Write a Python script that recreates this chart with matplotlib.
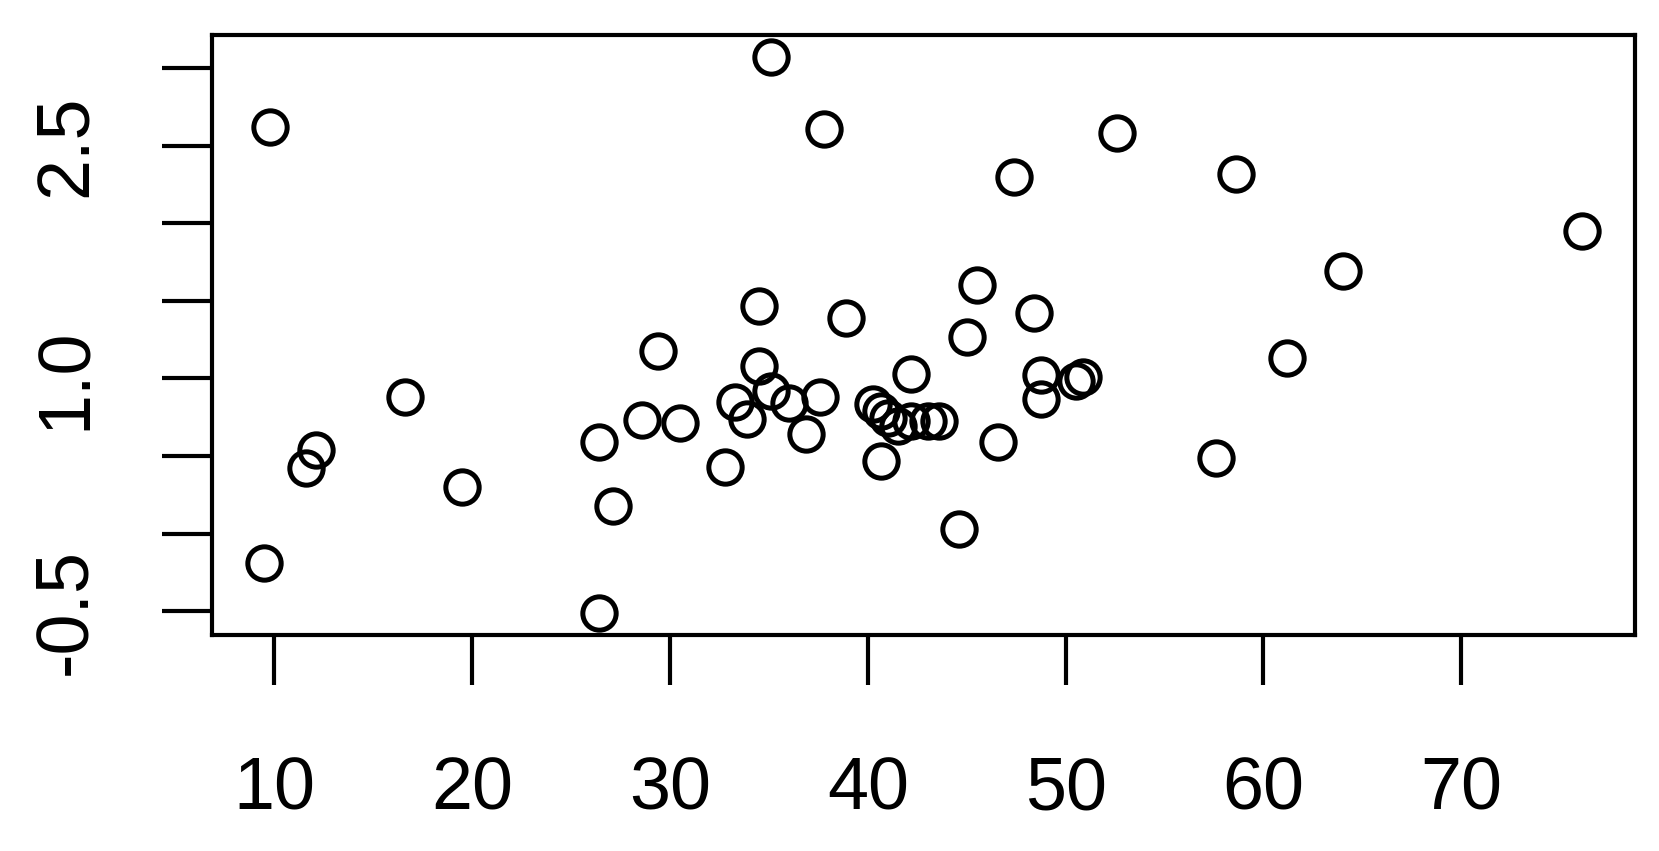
import matplotlib.pyplot as plt

# punkte
x = [9.8, 9.5, 11.6, 12.1, 16.6, 19.5, 26.4, 26.4, 27.1, 28.6,
     29.4, 30.5, 32.8, 33.3, 33.9, 34.5, 34.5, 35.1, 35.1, 36.0,
     36.9, 37.6, 37.8, 38.9, 40.26, 40.67, 41.01, 41.52, 40.67, 42.19,
     43.04, 43.6, 42.2, 44.6, 45.0, 45.5, 46.6, 47.4, 48.4, 48.78,
     48.78, 50.55, 50.88, 52.6, 57.6, 58.6, 61.2, 64.0, 76.1]
y = [2.62, -0.19, 0.42, 0.54, 0.88, 0.30, -0.51, 0.59, 0.18, 0.73,
     1.18, 0.71, 0.43, 0.85, 0.74, 1.47, 1.08, 0.92, 3.07, 0.84,
     0.64, 0.88, 2.61, 1.39, 0.836, 0.79, 0.748, 0.694, 0.467, 0.726,
     0.726, 0.726, 1.03, 0.03, 1.27, 1.60, 0.59, 2.30, 1.42, 1.02,
     0.87, 0.986, 1.007, 2.58, 0.49, 2.32, 1.13, 1.69, 1.95]

xticks = [10, 20, 30, 40, 50, 60, 70]
yticks = [-0.5, 0.0, 0.5, 1.0, 1.5, 2.0, 2.5, 3.0]
ylabels = ["-0.5", "", "", "1.0", "", "", "2.5", ""]

plt.rcParams['font.family'] = ['Liberation Sans', 'DejaVu Sans']

fig = plt.figure(figsize=(16.59, 8.51), dpi=100)
ax = fig.add_axes([0.1276, 0.2538, 0.8577, 0.7051])

ax.plot(x, y, linestyle='none', marker='o', markersize=24,
        markerfacecolor='none', markeredgecolor='black', markeredgewidth=3.6)

# R-artige achsen (4% rand)
rx = max(x) - min(x)
ry = max(y) - min(y)
ax.set_xlim(min(x) - 0.04 * rx, max(x) + 0.04 * rx)
ax.set_ylim(min(y) - 0.04 * ry, max(y) + 0.04 * ry)

ax.set_xticks(xticks)
ax.set_xticklabels([str(t) for t in xticks])
ax.set_yticks(yticks)
ax.set_yticklabels(ylabels, rotation=90, va='center')

for s in ax.spines.values():
    s.set_linewidth(3.0)
ax.tick_params(length=36, width=3.0, labelsize=53, color='black')
ax.tick_params(axis='x', pad=51)
ax.tick_params(axis='y', pad=44)

fig.savefig('out.png', dpi=100)
